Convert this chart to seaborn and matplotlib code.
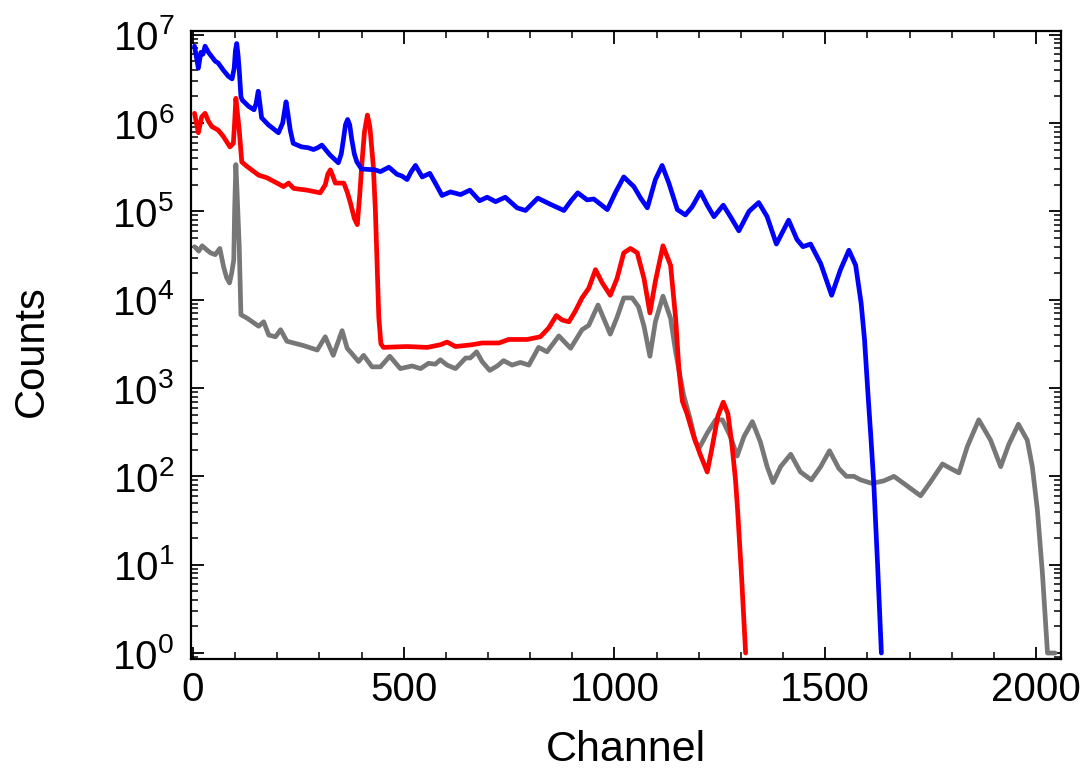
import numpy as np
import pandas as pd
import matplotlib
matplotlib.use("Agg")
import matplotlib.pyplot as plt
import seaborn as sns
from matplotlib.ticker import MultipleLocator, LogLocator, NullFormatter

# ---------------- data (counts given as log10 values) ----------------
blue_ch = [4, 13, 19, 24, 29, 37, 45, 53, 60, 72, 84, 93, 98, 101, 104, 107, 110, 114, 117, 132,
           145, 150, 155, 159, 163, 179, 203, 213, 217, 221, 225, 231, 238, 258, 274, 286, 296, 306,
           325, 345, 352, 357, 362, 367, 372, 377, 383, 389, 400, 432, 445, 465, 484, 496, 508, 518,
           528, 544, 562, 575, 591, 611, 635, 657, 680, 698, 718, 741, 769, 789, 818, 848, 880, 897,
           913, 935, 951, 983, 1003, 1022, 1046, 1062, 1078, 1097, 1113, 1129, 1149, 1168, 1184,
           1204, 1220, 1236, 1258, 1275, 1295, 1319, 1342, 1362, 1384, 1413, 1433, 1447, 1465, 1489,
           1515, 1536, 1556, 1572, 1585, 1593, 1601, 1608, 1615, 1624, 1633]
blue_log = [6.87, 6.62, 6.80, 6.78, 6.87, 6.80, 6.75, 6.70, 6.68, 6.60, 6.53, 6.50, 6.62, 6.82, 6.90,
            6.78, 6.60, 6.30, 6.26, 6.19,
            6.15, 6.22, 6.36, 6.22, 6.06, 5.98, 5.89, 6.00, 6.12, 6.24, 6.12, 5.92, 5.77, 5.73, 5.72,
            5.70, 5.72, 5.75,
            5.64, 5.55, 5.65, 5.81, 5.98, 6.04, 5.98, 5.81, 5.65, 5.56, 5.48, 5.47, 5.45, 5.50, 5.42,
            5.40, 5.36, 5.45,
            5.52, 5.39, 5.43, 5.32, 5.18, 5.22, 5.19, 5.24, 5.12, 5.16, 5.11, 5.16, 5.04, 5.01, 5.15,
            5.08, 5.01, 5.12,
            5.21, 5.13, 5.14, 5.02, 5.22, 5.39, 5.28, 5.15, 5.04, 5.36, 5.52, 5.32, 5.02, 4.96, 5.05,
            5.22, 5.07, 4.94, 5.07, 4.94, 4.78, 5.00, 5.10, 4.94, 4.63, 4.90, 4.68, 4.60, 4.63, 4.41,
            4.05, 4.34, 4.56, 4.39, 3.96, 3.55, 2.95, 2.45, 1.92, 1.00, 0.00]

red_ch = [4, 13, 21, 29, 37, 45, 60, 72, 88, 96, 99, 102, 106, 110, 116, 128, 156, 176, 215, 227,
          239, 271, 302, 314, 320, 326, 332, 338, 358, 366, 374, 383, 390, 396, 401, 407, 414, 420,
          428, 433, 437, 441, 446, 452, 508, 556, 587, 603, 623, 662, 686, 726, 749, 793, 824, 844,
          862, 876, 892, 907, 923, 939, 955, 971, 990, 1006, 1022, 1038, 1054, 1070, 1084, 1097,
          1115, 1133, 1145, 1153, 1161, 1172, 1188, 1204, 1220, 1232, 1245, 1258, 1269, 1279, 1287,
          1292, 1301, 1311]
red_log = [6.11, 5.89, 6.07, 6.11, 6.02, 5.96, 5.92, 5.85, 5.73, 5.77, 6.00, 6.28, 6.10, 5.92, 5.56,
           5.51, 5.41, 5.38, 5.28, 5.32,
           5.26, 5.24, 5.21, 5.30, 5.42, 5.47, 5.40, 5.32, 5.32, 5.22, 5.09, 4.92, 4.85, 5.20, 5.55,
           5.90, 6.09, 5.95,
           5.51, 5.00, 4.40, 3.80, 3.50, 3.46, 3.47, 3.46, 3.49, 3.52, 3.47, 3.49, 3.51, 3.51, 3.55,
           3.55, 3.58, 3.68,
           3.82, 3.77, 3.75, 3.87, 4.02, 4.13, 4.34, 4.19, 4.05, 4.24, 4.53, 4.58, 4.53, 4.24, 3.85,
           4.21,
           4.61, 4.39, 3.79, 3.20, 2.85, 2.71, 2.45, 2.24, 2.05, 2.34, 2.68, 2.84, 2.71, 2.34, 1.96,
           1.62, 0.90, 0.00]

gray_ch = [4, 14, 22, 34, 42, 53, 64, 73, 80, 87, 92, 97, 99, 102, 105, 110, 114, 129, 156, 168,
           180, 196, 208, 223, 263, 295, 314, 333, 354, 366, 377, 393, 405, 425, 445, 467, 492, 520,
           540, 559, 575, 587, 603, 623, 647, 658, 673, 686, 704, 722, 737, 757, 777, 797, 820, 840,
           868, 896, 923, 939, 961, 990, 1006, 1022, 1042, 1057, 1070, 1084, 1097, 1115, 1133, 1145,
           1153, 1164, 1180, 1192, 1202, 1220, 1240, 1256, 1275, 1291, 1307, 1327, 1346, 1362, 1376,
           1394, 1418, 1441, 1467, 1489, 1510, 1532, 1550, 1568, 1584, 1611, 1639, 1663, 1686, 1726,
           1750, 1778, 1797, 1817, 1837, 1864, 1892, 1916, 1935, 1958, 1979, 1991, 2003, 2015, 2027,
           2045]
gray_log = [4.60, 4.55, 4.61, 4.56, 4.53, 4.51, 4.58, 4.37, 4.25, 4.19, 4.30, 4.45, 5.00, 5.53, 5.20,
            4.60, 3.83, 3.79, 3.70, 3.75,
            3.60, 3.58, 3.66, 3.53, 3.48, 3.43, 3.58, 3.37, 3.65, 3.45, 3.39, 3.30, 3.37, 3.24, 3.24,
            3.36, 3.22, 3.25,
            3.22, 3.28, 3.27, 3.32, 3.26, 3.22, 3.34, 3.34, 3.41, 3.30, 3.20, 3.25, 3.31, 3.26, 3.29,
            3.26, 3.46, 3.41,
            3.59, 3.45, 3.66, 3.71, 3.94, 3.61, 3.80, 4.02, 4.02, 3.92, 3.70, 3.36, 3.75, 4.04, 3.79,
            3.41,
            3.20, 2.92, 2.64, 2.39, 2.33, 2.49, 2.64, 2.64, 2.45, 2.23, 2.45, 2.62, 2.39, 2.11, 1.93,
            2.11, 2.25, 2.05, 1.96, 2.11, 2.29, 2.09, 2.00, 2.00, 1.96, 1.92, 1.95, 2.00, 1.92, 1.78,
            1.94, 2.14, 2.09, 2.04, 2.34, 2.64, 2.41, 2.11, 2.36, 2.59, 2.41, 2.11, 1.62, 0.90, 0.00,
            0.00]

series_names = ["gray", "red", "blue"]
colors = {"gray": "#777777", "red": "#ff0000", "blue": "#0000ff"}

# ---------------- build long-form table ----------------
frames = []
for name, ch, lg in [("gray", gray_ch, gray_log), ("red", red_ch, red_log),
                     ("blue", blue_ch, blue_log)]:
    frames.append(pd.DataFrame({"Channel": ch, "Counts": 10.0 ** np.asarray(lg), "series": name}))
df = pd.concat(frames, ignore_index=True)

# ---------------- plot ----------------
sns.set_style("ticks")
plt.rcParams["font.family"] = ["Liberation Sans", "DejaVu Sans"]
plt.rcParams["mathtext.fontset"] = "custom"
plt.rcParams["mathtext.rm"] = "Liberation Sans"
plt.rcParams["mathtext.default"] = "regular"
plt.rcParams["text.color"] = "black"
plt.rcParams["axes.labelcolor"] = "black"
plt.rcParams["xtick.color"] = "black"
plt.rcParams["ytick.color"] = "black"

fig = plt.figure(figsize=(10.9, 7.76), dpi=100)
ax = fig.add_axes([0.175, 0.151, 0.798, 0.809])

sns.lineplot(data=df, x="Channel", y="Counts", hue="series", hue_order=series_names,
             palette=colors, estimator=None, sort=False, legend=False, ax=ax)
for ln in ax.get_lines():
    ln.set_linewidth(3.4)
    ln.set_solid_joinstyle("round")
    ln.set_solid_capstyle("round")

ax.set_yscale("log")
ax.set_xlim(-5, 2058)
ax.set_ylim(0.86, 1.1e7)

ax.xaxis.set_major_locator(MultipleLocator(500))
ax.xaxis.set_minor_locator(MultipleLocator(100))
ax.yaxis.set_major_locator(LogLocator(base=10, numticks=20))
ax.yaxis.set_minor_locator(LogLocator(base=10, subs=np.arange(2, 10), numticks=20))
ax.yaxis.set_minor_formatter(NullFormatter())

ax.tick_params(which="both", direction="in", top=True, right=True, colors="black",
               labelcolor="black")
ax.tick_params(which="major", length=9, width=1.3, labelsize=29)
ax.tick_params(axis="y", which="major", pad=12)
ax.tick_params(axis="x", which="major", pad=9)
ax.tick_params(which="minor", length=5, width=1.1)

for sp in ax.spines.values():
    sp.set_linewidth(1.6)
    sp.set_color("black")

ax.set_xlabel("Channel", fontsize=31, color="black")
ax.set_ylabel("Counts", fontsize=30, color="black")
ax.xaxis.set_label_coords(0.5, -0.114)
ax.yaxis.set_label_coords(-0.160, 0.49)

fig.savefig("out.png", dpi=100)
